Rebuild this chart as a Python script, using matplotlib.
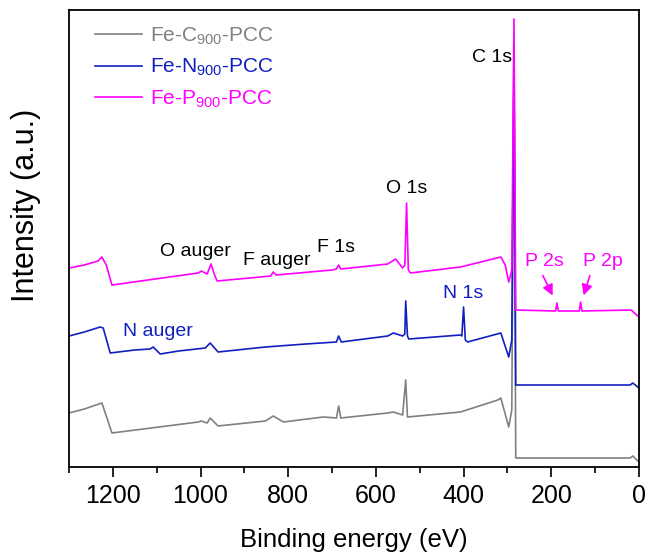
import numpy as np
import matplotlib
matplotlib.use('Agg')
import matplotlib.pyplot as plt

plt.rcParams['font.family'] = ['Liberation Sans', 'DejaVu Sans']
plt.rcParams['mathtext.fontset'] = 'custom'
plt.rcParams['mathtext.rm'] = 'Liberation Sans'
plt.rcParams['mathtext.it'] = 'Liberation Sans'

# -------------------------------
# data (arbitrary intensity units)
# -------------------------------
pcc_c_energy = [1300, 1265, 1225, 1202, 1005, 998, 985, 978, 960, 852, 834, 811,
                720, 690, 685, 680, 573, 560, 539, 532, 528, 407, 322, 315, 297,
                290, 285, 281, 20, 14, 0]
pcc_c_int = [54, 58, 64, 34, 45, 46, 44, 49, 41, 46, 51, 45,
             50, 49, 61, 49, 54, 55, 52, 87, 50, 55, 67, 69, 40,
             57, 400, 9, 9, 11, 5]

pcc_n_energy = [1300, 1265, 1229, 1222, 1206, 1150, 1115, 1108, 1092, 1050, 989, 978,
                960, 852, 760, 690, 685, 679, 573, 560, 539, 534, 532, 528, 525,
                407, 404, 400, 396, 391, 315, 297, 290, 285, 281, 20, 14, 0]
pcc_n_int = [131, 135, 140, 139, 114, 117, 118, 120, 113, 116, 119, 124,
             115, 120, 123, 125, 131, 125, 131, 134, 131, 133, 166, 131, 128,
             132, 131, 160, 127, 125, 134, 110, 127, 420, 82, 82, 84, 79]

pcc_p_energy = [1300, 1265, 1234, 1225, 1215, 1202, 1005, 998, 985, 976, 968, 962,
                864, 840, 834, 828, 700, 690, 685, 680, 573, 555, 539, 534, 530,
                526, 521, 407, 315, 305, 297, 290, 285, 281, 190, 187, 184, 136,
                133, 130, 18, 5, 0]
pcc_p_int = [199, 202, 206, 210, 202, 182, 194, 196, 193, 203, 192, 186,
             190, 191, 195, 192, 197, 198, 202, 198, 203, 208, 199, 202, 264,
             197, 194, 200, 210, 202, 185, 197, 448, 157, 156, 164, 156, 156,
             165, 156, 157, 152, 150]

labels = ['Fe-C$_{900}$-PCC', 'Fe-N$_{900}$-PCC', 'Fe-P$_{900}$-PCC']
colors = ['#808080', '#1020c0', '#ff00ff']

fig = plt.figure(figsize=(6.48, 5.57), dpi=100)
ax = fig.add_axes([0.1065, 0.1616, 0.8795, 0.8204])

for e, i, lab, c in zip([pcc_c_energy, pcc_n_energy, pcc_p_energy],
                        [pcc_c_int, pcc_n_int, pcc_p_int], labels, colors):
    ax.plot(e, i, color=c, lw=1.2, label=lab)

ax.set_xlim(1300, 0)
ax.set_ylim(0, 457)
ax.set_xticks(np.arange(0, 1201, 200))
ax.set_xticks(np.arange(100, 1301, 200), minor=True)
ax.set_yticks([])
ax.tick_params(axis='x', which='major', direction='out', length=7, width=1.2,
               labelsize=18, pad=5)
ax.tick_params(axis='x', which='minor', direction='out', length=4, width=1.2)
for s in ax.spines.values():
    s.set_linewidth(1.3)

ax.set_xlabel('Binding energy (eV)', fontsize=18.5, labelpad=15)
ax.set_ylabel('Intensity (a.u.)', fontsize=22)
ax.yaxis.set_label_coords(-0.05, 0.573)

# peak labels
ax.text(336, 410, 'C 1s', fontsize=14, ha='center', va='center')
ax.text(530, 279, 'O 1s', fontsize=14, ha='center', va='center')
ax.text(690, 220, 'F 1s', fontsize=14, ha='center', va='center')
ax.text(825, 207, 'F auger', fontsize=14, ha='center', va='center')
ax.text(1012, 216, 'O auger', fontsize=14, ha='center', va='center')
ax.text(1097, 135, 'N auger', fontsize=14, ha='center', va='center', color=colors[1])
ax.text(400, 174, 'N 1s', fontsize=14, ha='center', va='center', color=colors[1])
ax.text(215, 206, 'P 2s', fontsize=14, ha='center', va='center', color=colors[2])
ax.text(82, 206, 'P 2p', fontsize=14, ha='center', va='center', color=colors[2])
ax.annotate('', xy=(194, 169), xytext=(222, 194),
            arrowprops=dict(arrowstyle='-|>', color=colors[2], lw=1.2, mutation_scale=16))
ax.annotate('', xy=(128, 169), xytext=(110, 194),
            arrowprops=dict(arrowstyle='-|>', color=colors[2], lw=1.2, mutation_scale=16))

leg = ax.legend(loc='upper left', frameon=False, fontsize=15, handlelength=2.25,
                handletextpad=0.38, labelspacing=0.5, borderaxespad=0,
                bbox_to_anchor=(0.031, 0.985))
for t, c in zip(leg.get_texts(), colors):
    t.set_color(c)

plt.savefig('out.png', dpi=100)
